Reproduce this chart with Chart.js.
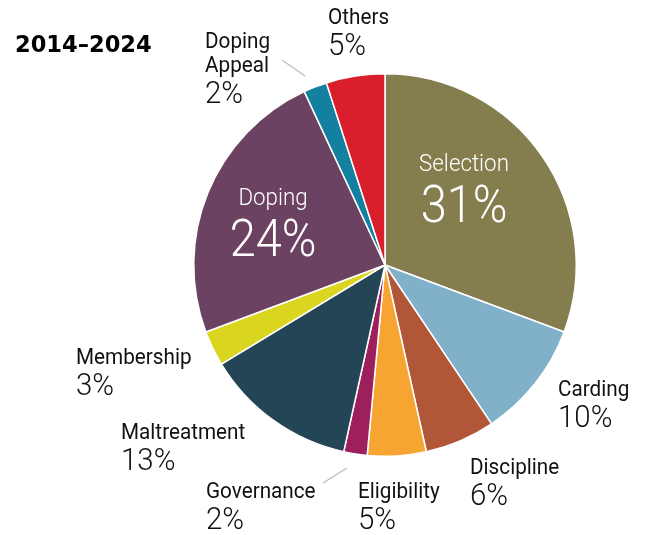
<!DOCTYPE html>
<html>
<head>
<meta charset="utf-8">
<script src="https://cdn.jsdelivr.net/npm/chart.js@4.4.1/dist/chart.umd.min.js"></script>
<style>
  html, body { margin: 0; padding: 0; background: #fff; }
  #wrap { width: 645px; height: 535px; position: relative; }
</style>
</head>
<body>
<div id="wrap"><canvas id="myPieChart"></canvas></div>
<script>
const categories = ["Selection", "Carding", "Discipline", "Eligibility", "Governance",
  "Maltreatment", "Membership", "Doping", "Doping Appeal", "Others"];
const shares = [31, 10, 6, 5, 2, 13, 3, 24, 2, 5];
const sliceColors = ["#847E4F", "#80B1C9", "#B25638", "#F6A533", "#9D1F5C",
  "#234555", "#DAD620", "#6C4262", "#13809F", "#D91F2B"];
const periodTitle = "2014–2024";

// where each outside label goes (x, y of first line centre), null = drawn inside
const labelSpots = [
  null,
  { x: 558, y: 390 },
  { x: 470, y: 468 },
  { x: 358, y: 492 },
  { x: 206, y: 492, line: [323, 483, 347, 468] },
  { x: 121, y: 433 },
  { x: 76, y: 358 },
  null,
  { x: 205, y: 42, twoLine: true, line: [282, 60, 305, 76] },
  { x: 328, y: 18 }
];
const insideSpots = { 0: { x: 464, y: 165 }, 7: { x: 273, y: 199 } };

const FONT = "Roboto, 'Noto Sans', sans-serif";

// draw text squeezed a little horizontally, like the condensed face in the original
function narrowText(ctx, text, x, y, squeeze) {
  ctx.save();
  ctx.translate(x, y);
  ctx.scale(squeeze, 1);
  ctx.fillText(text, 0, 0);
  ctx.restore();
}

const labelPlugin = {
  id: "sliceLabels",
  afterDraw(chart) {
    const ctx = chart.ctx;
    ctx.save();
    ctx.textBaseline = "middle";

    ctx.fillStyle = "#000";
    ctx.font = "bold 23px 'DejaVu Sans', sans-serif";
    ctx.textAlign = "left";
    narrowText(ctx, periodTitle, 15, 46, 0.98);

    categories.forEach((name, i) => {
      const pct = shares[i] + "%";
      if (insideSpots[i]) {
        const s = insideSpots[i];
        ctx.fillStyle = "#fff";
        ctx.textAlign = "center";
        ctx.font = "300 24px " + FONT;
        narrowText(ctx, name, s.x, s.y, 0.93);
        ctx.font = "300 51px " + FONT;
        narrowText(ctx, pct, s.x, s.y + 44, 0.92);
        return;
      }
      const s = labelSpots[i];
      ctx.fillStyle = "#111";
      ctx.textAlign = "left";
      ctx.font = "400 22.5px " + FONT;
      let y = s.y;
      if (s.twoLine) {
        const parts = name.split(" ");
        narrowText(ctx, parts[0], s.x, y, 0.92);
        y += 24;
        narrowText(ctx, parts[1], s.x, y, 0.92);
      } else {
        narrowText(ctx, name, s.x, y, 0.92);
      }
      ctx.font = "300 31px " + FONT;
      narrowText(ctx, pct, s.x, y + 29, 0.95);
      if (s.line) {
        ctx.strokeStyle = "#bbbbbb";
        ctx.lineWidth = 1.2;
        ctx.beginPath();
        ctx.moveTo(s.line[0], s.line[1]);
        ctx.lineTo(s.line[2], s.line[3]);
        ctx.stroke();
      }
    });
    ctx.restore();
  }
};

const ctx = document.getElementById("myPieChart").getContext("2d");
new Chart(ctx, {
  type: "pie",
  data: {
    labels: categories,
    datasets: [
      {
        data: shares,
        backgroundColor: sliceColors,
        borderColor: "#ffffff",
        borderWidth: 1.5,
      },
    ],
  },
  options: {
    responsive: true,
    maintainAspectRatio: false,
    animation: false,
    layout: { padding: { left: 193, right: 68, top: 73, bottom: 78 } },
    plugins: {
      legend: { display: false },
      tooltip: { enabled: false },
    },
  },
  plugins: [labelPlugin],
});
</script>
</body>
</html>
